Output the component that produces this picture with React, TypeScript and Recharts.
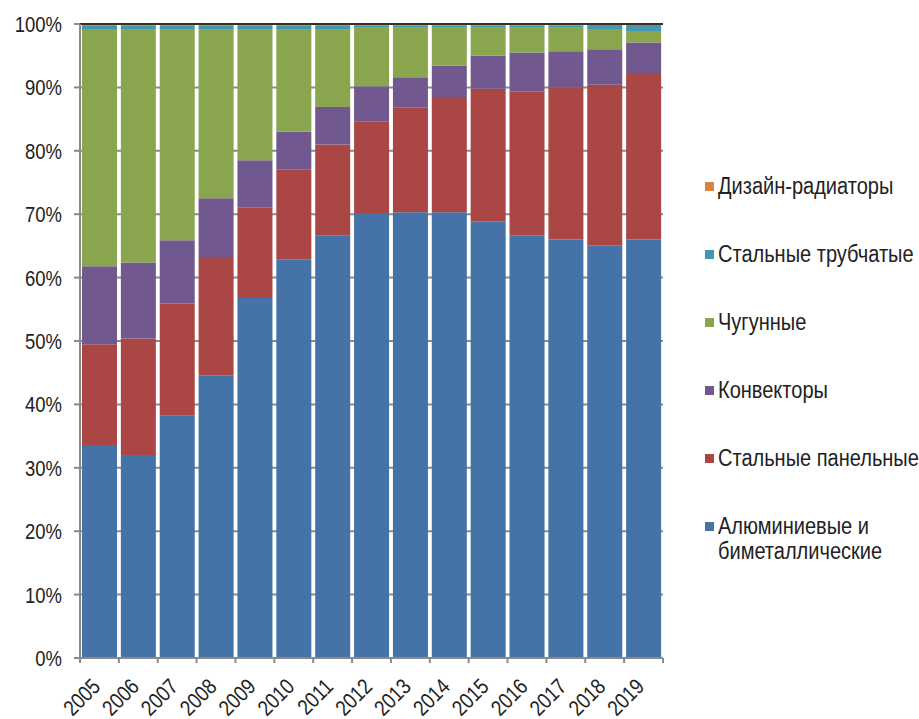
import React from "react";
import { BarChart, Bar, XAxis, YAxis, CartesianGrid, Legend, ReferenceLine } from "recharts";

const YEARS = ["2005", "2006", "2007", "2008", "2009", "2010", "2011", "2012", "2013", "2014", "2015", "2016", "2017", "2018", "2019"];

// shares, % (stacked bottom to top)
const ALUMINIUM = [33.6, 32.0, 38.2, 44.6, 56.8, 62.9, 66.6, 70.2, 70.3, 70.3, 68.9, 66.6, 66.0, 65.1, 66.0];
const STEEL_PANEL = [15.9, 18.4, 17.7, 18.5, 14.2, 14.1, 14.4, 14.4, 16.5, 18.2, 20.9, 22.7, 24.0, 25.3, 26.1];
const CONVECTORS = [12.3, 12.0, 10.0, 9.4, 7.5, 6.0, 5.9, 5.6, 4.8, 4.9, 5.2, 6.2, 5.7, 5.6, 5.0];
const CAST_IRON = [37.4, 36.8, 33.3, 26.7, 20.7, 16.2, 12.3, 9.2, 7.8, 6.0, 4.4, 3.9, 3.7, 3.2, 1.8];
const STEEL_TUBE = [0.5, 0.5, 0.5, 0.5, 0.5, 0.5, 0.5, 0.4, 0.4, 0.4, 0.4, 0.4, 0.4, 0.7, 1.0];
const DESIGN = [0.3, 0.3, 0.3, 0.3, 0.3, 0.3, 0.3, 0.2, 0.2, 0.2, 0.2, 0.2, 0.2, 0.1, 0.1];

const Y_TICKS = [0, 10, 20, 30, 40, 50, 60, 70, 80, 90, 100];

const SERIES = [
  { key: "aluminium", name: "Алюминиевые и\nбиметаллические", color: "#4572A7", values: ALUMINIUM },
  { key: "steelPanel", name: "Стальные панельные", color: "#AA4643", values: STEEL_PANEL },
  { key: "convectors", name: "Конвекторы", color: "#71588F", values: CONVECTORS },
  { key: "castIron", name: "Чугунные", color: "#89A54E", values: CAST_IRON },
  { key: "steelTube", name: "Стальные трубчатые", color: "#4198AF", values: STEEL_TUBE },
  { key: "design", name: "Дизайн-радиаторы", color: "#DB843D", values: DESIGN },
];

const data = YEARS.map((year, i) => {
  const row: Record<string, any> = { year };
  SERIES.forEach((s) => (row[s.key] = s.values[i]));
  return row;
});

const FONT = "'Liberation Sans', Arial, sans-serif";
const SQUEEZE = 0.84; // the original uses a narrow Arial
const AXIS_GRAY = "#8a8a8a";
const TEXT = "#222";
const PLOT_LEFT = 80;
const PLOT_RIGHT = 663;
const BAND = (PLOT_RIGHT - PLOT_LEFT) / YEARS.length;

function YearTick(props: any) {
  const { x, y, payload, index } = props;
  const tx = x + 2;
  const ty = y + 30;
  return (
    <g>
      <line x1={x - BAND / 2} x2={x - BAND / 2} y1={y} y2={y + 5} stroke={AXIS_GRAY} strokeWidth={2} />
      {index === YEARS.length - 1 && (
        <line x1={x + BAND / 2} x2={x + BAND / 2} y1={y} y2={y + 5} stroke={AXIS_GRAY} strokeWidth={2} />
      )}
      <text
        transform={`translate(${tx} ${ty}) rotate(-45) scale(${SQUEEZE} 1)`}
        textAnchor="end"
        fontSize={22}
        fontFamily={FONT}
        fill={TEXT}
      >
        {payload.value}
      </text>
    </g>
  );
}

function PercentTick(props: any) {
  const { x, y, payload } = props;
  return (
    <text
      transform={`translate(${x} ${y}) scale(${SQUEEZE} 1)`}
      textAnchor="end"
      dy="0.36em"
      fontSize={22}
      fontFamily={FONT}
      fill={TEXT}
    >
      {`${payload.value}%`}
    </text>
  );
}

function renderLegend() {
  const items = [...SERIES].reverse();
  return (
    <div style={{ fontFamily: FONT, fontSize: 23, color: TEXT, textAlign: "left" }}>
      {items.map((it) => (
        <div key={it.key} style={{ height: 68, display: "flex", alignItems: "flex-start" }}>
          <span style={{ width: 9, height: 9, background: it.color, marginTop: 8, marginRight: 4, flex: "none" }} />
          <span
            style={{
              display: "inline-block",
              whiteSpace: "pre",
              lineHeight: "25px",
              transform: "scaleX(0.87)",
              transformOrigin: "left top",
            }}
          >
            {it.name}
          </span>
        </div>
      ))}
    </div>
  );
}

export default function App() {
  return (
    <div style={{ position: "absolute", left: 0, top: 0, width: 919, height: 719, background: "#fff" }}>
      <BarChart
        width={919}
        height={719}
        data={data}
        margin={{ top: 24, right: 919 - PLOT_RIGHT, bottom: 0, left: 0 }}
        barCategoryGap={2}
      >
        <CartesianGrid vertical={false} stroke={AXIS_GRAY} strokeWidth={2} />
        <XAxis
          dataKey="year"
          height={61}
          axisLine={{ stroke: AXIS_GRAY, strokeWidth: 2 }}
          tickLine={false}
          tickSize={0}
          tickMargin={0}
          interval={0}
          tick={<YearTick />}
        />
        <YAxis
          width={PLOT_LEFT}
          domain={[0, 100]}
          ticks={Y_TICKS}
          interval={0}
          axisLine={{ stroke: AXIS_GRAY, strokeWidth: 2 }}
          tickLine={{ stroke: AXIS_GRAY, strokeWidth: 2 }}
          tickSize={6}
          tickMargin={12}
          tick={<PercentTick />}
        />
        <YAxis
          yAxisId="r"
          orientation="right"
          width={0}
          domain={[0, 100]}
          tick={false}
          tickLine={false}
          axisLine={{ stroke: "#000", strokeWidth: 2 }}
        />
        {SERIES.map((s) => (
          <Bar key={s.key} dataKey={s.key} name={s.name} stackId="a" fill={s.color} isAnimationActive={false} />
        ))}
        <ReferenceLine y={100} stroke="#111" strokeWidth={1.5} />
        <Legend
          content={renderLegend}
          layout="horizontal"
          verticalAlign="middle"
          align="center"
          wrapperStyle={{ position: "absolute", left: 705, top: 174, width: 214, height: 420 }}
        />
      </BarChart>
    </div>
  );
}
